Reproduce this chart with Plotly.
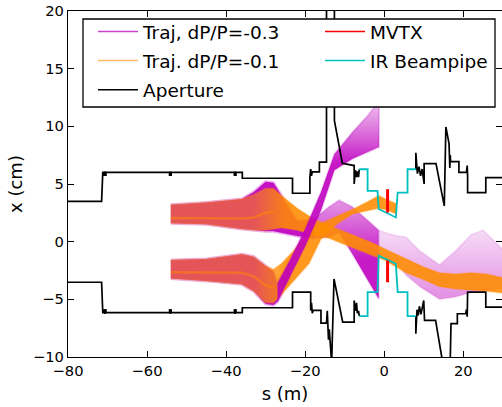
import plotly.graph_objects as go

# ---------------- data (s in m, x in cm) ----------------
# Aperture, upper side
ap_up_s = [-80, -71.5, -71.2, -70.8, -70.8, -70.6, -70.4, -70.4, -54.3, -54.3, -54.1, -53.9, -53.9,
           -37.9, -37.9, -37.7, -37.5, -37.5, -35.9, -35.9, -23.2, -23.2, -18.8, -18.8, -18.6, -18.4,
           -18.2, -16.4, -16.4, -14.6, -14.6, -12.6, -12.6, -10.6, -7.6, -7.6, -7.3, -7.0, -6.8, -6.5, -6.3]
ap_up_x = [3.5, 3.5, 6.0, 6.0, 5.7, 6.1, 5.7, 6.0, 6.0, 5.7, 6.1, 5.7, 6.0,
           6.0, 5.7, 6.1, 5.7, 6.0, 6.0, 5.5, 5.5, 4.2, 4.2, 5.6, 6.3, 5.7,
           6.05, 6.05, 6.9, 6.9, 22.0, 22.0, 10.5, 6.8, 6.6, 5.0, 6.2, 5.6, 6.1, 5.6, 6.28]
ap_up_s2 = [8.0, 8.0, 8.4, 8.8, 9.2, 9.6, 10.1, 10.1, 13.1, 15.2, 15.6, 16.4, 16.6, 16.7, 16.8,
            18.9, 18.9, 20.8, 21.0, 21.1, 21.1, 25.7, 25.7, 31.0]
ap_up_x2 = [6.28, 7.7, 5.9, 6.5, 5.7, 6.3, 5.0, 6.77, 6.77, 3.1, 9.94, 8.5, 6.4, 7.5, 6.94,
            6.94, 6.0, 6.0, 6.6, 5.6, 4.26, 4.26, 5.56, 5.56]
# Aperture, lower side
ap_lo_s = [-80, -71.5, -71.2, -70.8, -70.8, -70.6, -70.4, -70.4, -54.3, -54.3, -54.1, -53.9, -53.9,
           -37.9, -37.9, -37.7, -37.5, -37.5, -35.9, -35.9, -23.2, -23.2, -18.6, -18.6, -18.4, -18.2,
           -18.0, -16.0, -16.0, -14.6, -14.4, -14.1, -13.9, -13.3, -12.7, -10.5, -7.6, -7.6, -7.3,
           -7.0, -6.8, -6.5, -6.3]
ap_lo_x = [-3.52, -3.52, -6.15, -6.15, -5.85, -6.25, -5.85, -6.15, -6.15, -5.85, -6.25, -5.85, -6.15,
           -6.15, -5.85, -6.25, -5.85, -6.15, -6.15, -5.73, -5.73, -4.38, -4.38, -5.96, -5.3, -6.2,
           -5.96, -5.96, -7.06, -7.06, -6.0, -8.5, -7.6, -10.5, -3.23, -6.97, -6.97, -5.1, -6.0,
           -5.3, -6.2, -6.0, -6.45]
ap_lo_s2 = [8.0, 8.0, 8.3, 8.6, 8.9, 9.3, 10.0, 10.2, 13.0, 14.8, 16.7, 16.9, 18.5, 18.5, 20.6,
            20.8, 21.0, 21.1, 25.7, 25.7, 31.0]
ap_lo_x2 = [-6.45, -7.98, -5.9, -6.4, -5.6, -6.3, -5.1, -6.83, -6.83, -10.5, -10.5, -7.1, -7.1, -6.25,
            -6.25, -5.9, -6.5, -4.38, -4.38, -5.68, -5.68]

# IR beampipe
bp_s = [-6.3, -4.2, -4.2, -1.7, -1.4, 2.95, 3.4, 5.9, 5.9, 8.0]
bp_up_x = [6.28, 6.28, 4.4, 4.4, 2.83, 2.1, 4.26, 4.26, 6.28, 6.28]
bp_lo_x = [-6.45, -6.45, -4.38, -4.38, -1.21, -1.93, -4.38, -4.38, -6.45, -6.45]

# MVTX
mvtx_s = [0.85, 0.85]
mvtx_up_x = [2.53, 4.55]
mvtx_lo_x = [-3.52, -1.64]

# dP/P = -0.3 (magenta) trajectory envelopes
mu_s = [-54, -45, -36, -33, -30, -28, -26, -22, -18, -14, -11.4, -8, -4, -1.4]
mu_top = [3.2, 3.4, 3.7, 4.3, 5.2, 5.1, 4.0, 1.8, 1.9, 3.0, 3.6, 3.0, 1.8, 1.0]
mu_bot = [1.6, 1.5, 1.1, 1.0, 0.9, 0.9, 0.8, 0.5, 0.3, 0.4, 0.8, -1.1, -3.4, -4.95]
mf_s = [-1.4, 1, 3.4, 5.5, 9, 14, 18, 22, 25, 31]
mf_top = [1.0, 0.7, 0.5, 0.4, -0.8, -2.0, -0.8, 0.6, 1.0, -1.0]
mf_bot = [-1.21, -1.6, -1.93, -2.9, -3.9, -5.0, -4.8, -4.4, -4.3, -4.0]
ml_s = [-54, -45, -36, -33, -30, -28, -27, -24, -20, -16, -12.6, -8, -4, -1.3]
ml_top = [-1.6, -1.5, -1.1, -1.3, -2.1, -2.6, -3.6, -1.7, 1.1, 4.3, 7.6, 9.5, 11.0, 12.2]
ml_bot = [-3.2, -3.4, -3.7, -4.3, -5.4, -5.5, -5.2, -3.2, -0.4, 2.7, 6.2, 7.2, 7.8, 8.2]

# dP/P = -0.1 (orange) trajectory envelopes
ou_s = [-54, -45, -36, -33, -30, -28, -26, -22, -18, -14, -8, -3, 0, 5.5, 10, 14, 18, 22, 26, 31]
ou_top = [3.2, 3.4, 3.7, 4.1, 4.6, 4.6, 4.0, 2.9, 2.0, 1.4, 0.6, -0.1, -0.6, -1.5, -2.2, -2.7, -2.8, -2.7, -2.8, -3.2]
ou_bot = [1.6, 1.5, 1.1, 1.0, 1.0, 1.1, 1.2, 1.0, 0.6, 0.3, -0.5, -1.2, -1.6, -2.7, -3.3, -3.9, -4.1, -4.2, -4.3, -4.5]
ol_s = [-54, -45, -36, -33, -30, -28, -26, -23, -19, -16, -12, -8, -4, -1.4, 1, 3]
ol_top = [-1.6, -1.5, -1.1, -1.3, -2.1, -2.4, -1.9, -0.8, 1.0, 1.6, 2.2, 2.8, 3.5, 4.0, 3.6, 3.3]
ol_bot = [-3.2, -3.4, -3.7, -4.3, -5.3, -5.3, -4.6, -3.5, -1.9, 0.2, 1.5, 2.4, 2.7, 2.9, 2.7, 2.4]
# dense orange cores inside the overlapping part of the bundles
core_s = [-54, -45, -36, -33, -30, -28]
core_up_x = [2.05, 2.05, 2.0, 2.1, 2.5, 2.6]
core_lo_x = [-2.65, -2.65, -2.7, -3.0, -3.8, -4.0]

x_ticks = [-80, -60, -40, -20, 0, 20]
x_tick_text = ["\u221280", "\u221260", "\u221240", "\u221220", "0", "20"]
y_ticks = [-10, -5, 0, 5, 10, 15, 20]
y_tick_text = ["\u221210", "\u22125", "0", "5", "10", "15", "20"]

MAG = "191,0,191"
ORA = "255,140,0"

fig = go.Figure()


def band(s, top, bot, rgb, alpha, edge_alpha, edge_w, gradient=None):
    kw = {}
    if gradient is not None:
        kw["fillgradient"] = gradient
    fig.add_trace(go.Scatter(
        x=list(s) + list(s)[::-1], y=list(top) + list(bot)[::-1],
        mode="lines", fill="toself", fillcolor=f"rgba({rgb},{alpha})",
        line=dict(width=edge_w, color=f"rgba({rgb},{edge_alpha})"),
        hoverinfo="skip", showlegend=False, **kw))


def grad(kind, start, stop, rgb, a0, a1):
    return dict(type=kind, start=start, stop=stop,
                colorscale=[[0, f"rgba({rgb},{a0})"], [1, f"rgba({rgb},{a1})"]])


k = 8  # split index in mu (s = -18)
band(mf_s, mf_top, mf_bot, MAG, 0.25, 0.1, 2, grad("vertical", -4.5, 1.0, MAG, 0.42, 0.14))
band(mu_s[:k + 1], mu_top[:k + 1], mu_bot[:k + 1], MAG, 0.93, 0.3, 3)
band(mu_s[k:], mu_top[k:], mu_bot[k:], MAG, 0.8, 0.2, 2, grad("vertical", -1.5, 3.7, MAG, 0.9, 0.4))
band(ml_s[:8], ml_top[:8], ml_bot[:8], MAG, 0.93, 0.3, 3)
band(ou_s, ou_top, ou_bot, ORA, 0.7, 0.2, 2, grad("horizontal", -33, -25, ORA, 0.55, 0.88))
band(ol_s, ol_top, ol_bot, ORA, 0.7, 0.2, 2, grad("horizontal", -33, -25, ORA, 0.55, 0.88))
fig.add_trace(go.Scatter(x=core_s + [None] + core_s, y=core_up_x + [None] + core_lo_x,
                         mode="lines", line=dict(color=f"rgba({ORA},0.5)", width=2.5),
                         showlegend=False, hoverinfo="skip"))
band(ml_s[6:], ml_top[6:], ml_bot[6:], MAG, 0.85, 0.2, 2, grad("vertical", 6.8, 12.0, MAG, 0.9, 0.25))

# aperture
fig.add_trace(go.Scatter(
    x=ap_up_s + [None] + ap_up_s2 + [None] + ap_lo_s + [None] + ap_lo_s2,
    y=ap_up_x + [None] + ap_up_x2 + [None] + ap_lo_x + [None] + ap_lo_x2,
    mode="lines", line=dict(color="black", width=1.7), showlegend=False, hoverinfo="skip"))
# beampipe
fig.add_trace(go.Scatter(
    x=bp_s + [None] + bp_s, y=bp_up_x + [None] + bp_lo_x,
    mode="lines", line=dict(color="#00BFBF", width=1.8), showlegend=False, hoverinfo="skip"))
# MVTX
fig.add_trace(go.Scatter(
    x=mvtx_s + [None] + mvtx_s, y=mvtx_up_x + [None] + mvtx_lo_x,
    mode="lines", line=dict(color="red", width=3), showlegend=False, hoverinfo="skip"))

# legend entries
leg = [("Traj, dP/P=-0.3", f"rgba({MAG},0.75)", "legend"),
       ("Traj. dP/P=-0.1", f"rgba({ORA},0.6)", "legend"),
       ("Aperture", "black", "legend"),
       ("MVTX", "red", "legend2"),
       ("IR Beampipe", "#00BFBF", "legend2")]
for i, (name, col, lg) in enumerate(leg):
    fig.add_trace(go.Scatter(x=[None], y=[None], mode="lines", name=name, legendgroup=f"g{i}",
                             line=dict(color=col, width=1.5), legend=lg))

L, T, PW, PH = 68, 11, 434, 346
legfont = dict(family="DejaVu Sans", size=18.5, color="black")
fig.update_layout(
    width=502, height=407,
    margin=dict(l=L, r=0, t=T, b=407 - T - PH),
    paper_bgcolor="white", plot_bgcolor="white",
    font=dict(family="DejaVu Sans", size=14.7, color="black"),
    xaxis=dict(range=[-80, 29.8], tickvals=x_ticks, ticktext=x_tick_text,
               ticks="inside", ticklen=5.5, tickwidth=1.2, tickcolor="black",
               showline=True, linecolor="black", linewidth=1.3, mirror="ticks",
               showgrid=False, zeroline=False,
               title=dict(text="s (m)", standoff=9)),
    yaxis=dict(range=[-10, 20], tickvals=y_ticks, ticktext=y_tick_text,
               ticks="inside", ticklen=5.5, tickwidth=1.2, tickcolor="black",
               showline=True, linecolor="black", linewidth=1.3, mirror="ticks",
               showgrid=False, zeroline=False,
               title=dict(text="x (cm)", standoff=5)),
    legend=dict(x=(93 - L) / PW, y=(357 - 13) / PH, xanchor="left", yanchor="top",
                bgcolor="rgba(0,0,0,0)", borderwidth=0, font=legfont, itemwidth=40,
                tracegroupgap=2),
    legend2=dict(x=(320 - L) / PW, y=(357 - 13) / PH, xanchor="left", yanchor="top",
                 bgcolor="rgba(0,0,0,0)", borderwidth=0, font=legfont, itemwidth=40,
                 tracegroupgap=2),
    shapes=[dict(type="rect", xref="paper", yref="paper",
                 x0=(83 - L) / PW, x1=(495 - L) / PW, y0=(357 - 107) / PH, y1=(357 - 19) / PH,
                 line=dict(color="black", width=1.3), fillcolor="white", layer="above")],
)

fig.write_html("out.html", config={"displayModeBar": False},
               post_script="document.body.style.margin='0px';")
